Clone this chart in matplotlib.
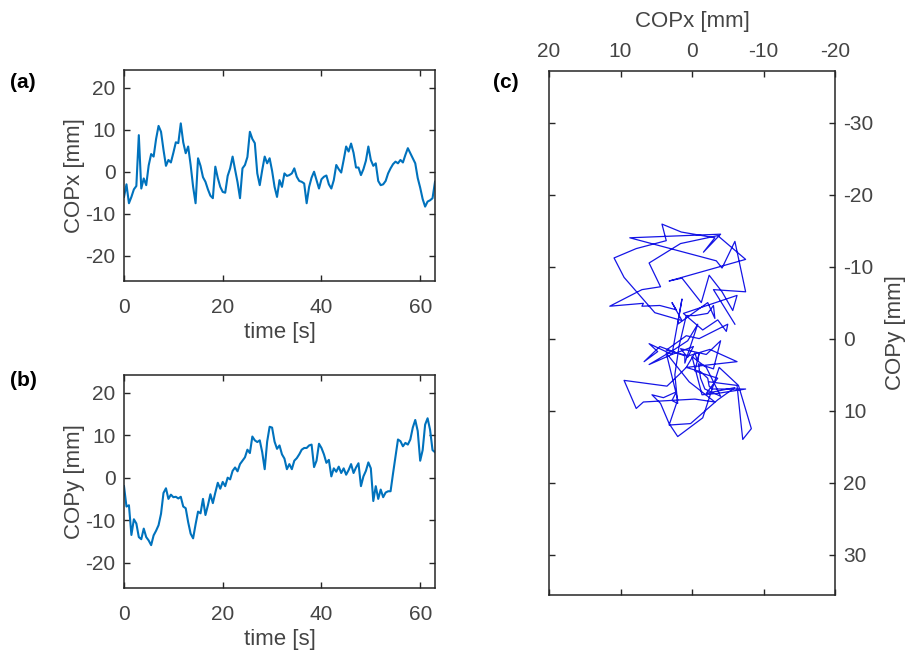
import numpy as np
import matplotlib
matplotlib.use("Agg")
import matplotlib.pyplot as plt

plt.rcParams['font.family'] = ['Liberation Sans', 'DejaVu Sans']
plt.rcParams['axes.unicode_minus'] = False

# ---- data ----
time_s = [i * 0.5 for i in range(127)]  # 0 .. 63 s

copx_mm = [
    -6.0, -3.0, -7.5, -6.0, -4.2, -3.4, 8.7, -4.0, -1.6, -3.2,
    1.5, 4.2, 3.6, 7.8, 10.9, 9.5, 5.2, 1.4, 2.8, 2.2,
    4.5, 7.0, 6.8, 11.5, 7.0, 4.4, 6.0, 1.6, -3.6, -7.5,
    3.2, 1.4, -1.3, -2.4, -4.2, -5.7, -6.3, 1.2, -1.5, -3.6,
    -4.8, -5.0, -1.0, 0.8, 3.6, 0.5, -2.5, -6.3, 0.8, 1.6,
    3.5, 9.5, 7.8, 6.8, -0.4, -3.2, 0.4, 3.6, 2.0, 3.2,
    0.2, -3.6, -6.0, -2.0, -3.6, -0.4, -1.0, -0.8, -0.4, 0.8,
    -1.2, -2.2, -2.4, -2.8, -7.5, -3.6, -1.4, 0.0, -2.0, -4.0,
    -1.8, -1.2, -0.9, -3.0, -4.0, -2.0, 1.6, 0.6, -0.2, 2.8,
    6.0, 4.8, 6.7, 4.5, 1.0, 1.0, -0.8, 0.6, 2.6, 6.0,
    2.8, 1.4, 2.0, -2.2, -3.2, -3.0, -2.2, -0.4, 0.8, 1.8,
    2.4, 2.0, 2.8, 2.2, 4.0, 5.6, 4.4, 3.2, 2.0, -1.5,
    -3.8, -6.5, -8.3, -7.1, -6.8, -6.3, -2.4,
]

copy_mm = [
    -2.0, -6.8, -6.5, -13.5, -9.8, -10.8, -14.0, -14.5, -12.0, -14.0,
    -14.8, -15.9, -13.6, -12.5, -11.2, -8.5, -3.6, -2.5, -5.0, -4.0,
    -4.6, -4.5, -4.9, -4.5, -6.8, -7.2, -10.5, -13.2, -14.3, -11.0,
    -8.0, -8.4, -5.0, -8.8, -6.5, -3.9, -6.0, -3.5, -1.2, -2.6,
    -1.0, -2.0, 0.0, -0.4, 1.6, 2.4, 1.5, 3.2, 4.0, 4.8,
    6.6, 5.8, 9.7, 8.8, 8.4, 8.8, 6.0, 2.0, 8.5, 12.0,
    11.8, 8.5, 6.8, 7.6, 5.5, 4.5, 2.0, 3.2, 2.0, 4.0,
    4.6, 5.5, 6.6, 7.0, 7.0, 7.6, 7.8, 2.5, 4.0, 8.0,
    7.0, 5.5, 3.5, 4.2, 0.3, 2.2, 1.4, 2.6, 1.1, 2.2,
    0.7, 1.8, 3.2, 1.1, 2.4, 3.4, -2.0, 0.3, 1.6, 3.6,
    2.2, -5.5, -2.0, -5.0, -2.8, -4.6, -3.5, -3.2, -3.2, 1.0,
    5.0, 9.0, 8.6, 7.4, 8.2, 7.8, 9.0, 11.8, 13.6, 11.0,
    4.0, 6.5, 12.5, 14.0, 11.3, 6.5, 6.0,
]

time_ticks = [0, 20, 40, 60]
cop_ticks = [-20, -10, 0, 10, 20]
c_xticks = [20, 10, 0, -10, -20]
c_yticks = [-30, -20, -10, 0, 10, 20, 30]

# ---- styling ----
W, H = 907, 650
AX_COL = '#262626'
TXT_COL = '#444444'
LINE_COL = '#0072BD'
TRACE_COL = '#1515E6'
FS_TICK = 15
FS_LAB = 16

fig = plt.figure(figsize=(W / 100, H / 100), dpi=100)


def box(l, t, r, b):
    return [l / W, 1 - b / H, (r - l) / W, (b - t) / H]


def style(ax):
    for s in ax.spines.values():
        s.set_color(AX_COL)
        s.set_linewidth(1.1)
    ax.tick_params(direction='in', length=4, width=1.0, color=AX_COL,
                   labelcolor=TXT_COL, labelsize=FS_TICK,
                   top=True, right=True)


ax_a = fig.add_axes(box(124, 70, 435, 281))
ax_b = fig.add_axes(box(124, 375, 435, 588))
ax_c = fig.add_axes(box(549, 70.7, 835, 595))

for ax, series, lab in [(ax_a, copx_mm, 'COPx [mm]'), (ax_b, copy_mm, 'COPy [mm]')]:
    ax.plot(time_s, series, color=LINE_COL, lw=1.5)
    ax.set_xlim(0, 63)
    ax.set_ylim(-26, 24.2)
    ax.set_xticks(time_ticks)
    ax.set_yticks(cop_ticks)
    style(ax)
    ax.tick_params(axis='x', pad=12)
    ax.tick_params(axis='y', pad=6)
    ax.set_xlabel('time [s]', fontsize=FS_LAB, color=TXT_COL, labelpad=3.5)
    ax.set_ylabel(lab, fontsize=FS_LAB, color=TXT_COL, labelpad=0.5)

# panel (c): COPx vs COPy
ax_c.plot(copx_mm, copy_mm, color=TRACE_COL, lw=0.9)
ax_c.set_xlim(20, -20)
ax_c.set_ylim(35.6, -37.2)
ax_c.set_xticks(c_xticks)
ax_c.set_yticks(c_yticks)
style(ax_c)
ax_c.tick_params(bottom=True, top=True, labelbottom=False, labeltop=True,
                 left=True, right=True, labelleft=False, labelright=True)
ax_c.tick_params(axis='x', pad=7)
ax_c.tick_params(axis='y', pad=6)
ax_c.xaxis.set_label_position('top')
ax_c.yaxis.set_label_position('right')
ax_c.set_xlabel('COPx [mm]', fontsize=FS_LAB, color=TXT_COL, labelpad=11)
ax_c.set_ylabel('COPy [mm]', fontsize=FS_LAB, color=TXT_COL, labelpad=8)

for txt, x, y in [('(a)', 10, 83), ('(b)', 10, 380), ('(c)', 493, 83)]:
    fig.text(x / W, 1 - y / H, txt, fontsize=15, fontweight='bold',
             color='black', ha='left', va='center')

fig.savefig('out.png', dpi=100)
